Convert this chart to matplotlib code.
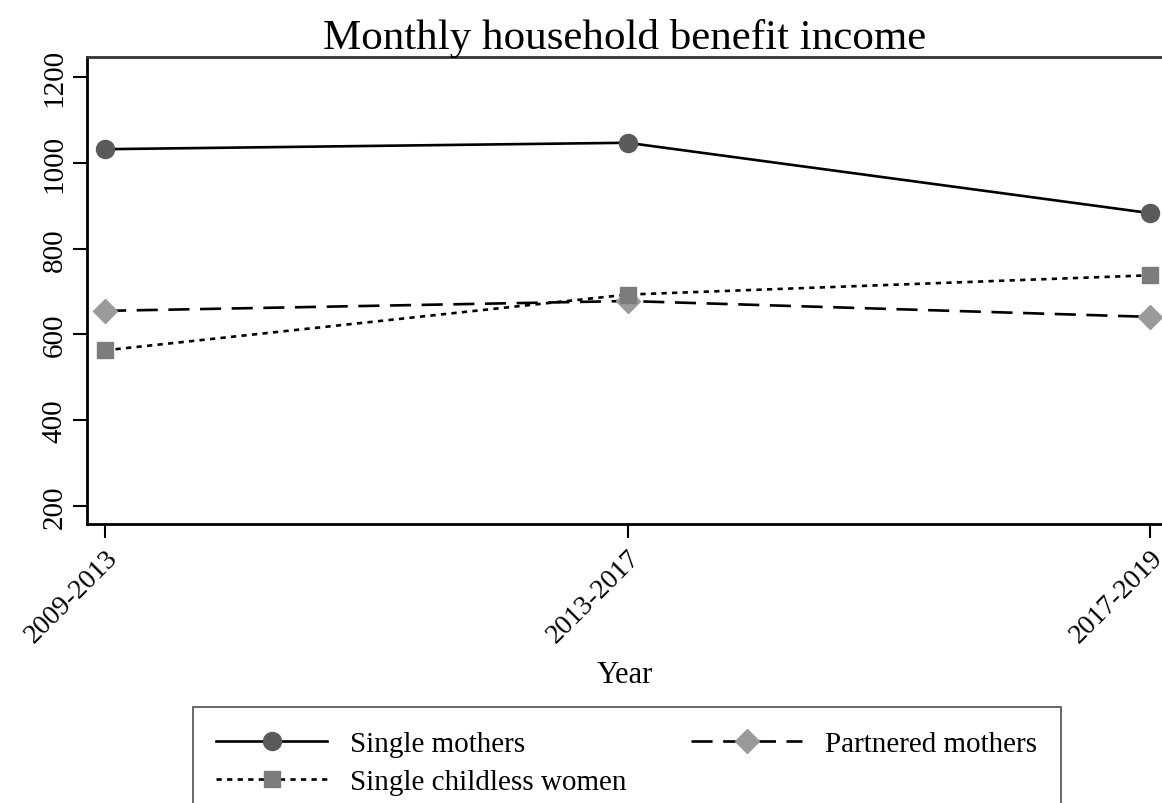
import matplotlib
matplotlib.use("Agg")
import matplotlib.pyplot as plt

plt.rcParams['font.family'] = ['Liberation Serif', 'DejaVu Serif']

periods = ['2009-2013', '2013-2017', '2017-2019']
single_mothers = [1032, 1047, 883]
partnered_mothers = [655, 678, 641]
single_childless = [563, 693, 738]
yticks = [200, 400, 600, 800, 1000, 1200]

fig = plt.figure(figsize=(11.62, 8.04), dpi=100)
# axes box: left edge at ~87px, top ~58px, bottom ~525px, runs to right edge
ax = fig.add_axes([87 / 1162, 1 - 525 / 804, 1 - 87 / 1162, (525 - 58) / 804])

x = range(len(periods))
ax.plot(x, single_mothers, color='black', linestyle='-', linewidth=1.9,
        marker='o', markersize=13, markerfacecolor='#5a5a5a', markeredgecolor='#5a5a5a',
        label='Single mothers')
ax.plot(x, partnered_mothers, color='black', linestyle=(0, (8, 4)), linewidth=1.9,
        marker='D', markersize=12, markerfacecolor='#9a9a9a', markeredgecolor='#9a9a9a',
        label='Partnered mothers')
ax.plot(x, single_childless, color='black', linestyle=(0, (2, 2)), linewidth=1.9,
        marker='s', markersize=12, markerfacecolor='#7c7c7c', markeredgecolor='#7c7c7c',
        label='Single childless women')

ax.set_xlim(-0.0345, 2.023)
ax.set_ylim(158, 1247)
ax.set_xticks(list(x))
ax.set_xticklabels(periods, rotation=45, ha='right', rotation_mode='anchor', fontsize=20)
ax.set_yticks(yticks)
ax.set_yticklabels([str(v) for v in yticks], rotation=90, va='center', fontsize=21)
ax.tick_params(axis='both', length=10, width=1.5, direction='out')
ax.tick_params(axis='x', pad=5)
ax.tick_params(axis='y', pad=4)
ax.spines['right'].set_visible(False)
for side in ['left', 'bottom']:
    ax.spines[side].set_linewidth(2)
ax.spines['top'].set_linewidth(2)
ax.spines['top'].set_color('#333333')

ax.set_xlabel('Year', fontsize=22, labelpad=9)
ax.set_title('Monthly household benefit income', fontsize=31, pad=4)

handles, labels = ax.get_legend_handles_labels()
order = [0, 2, 1]
leg = fig.legend([handles[i] for i in order], [labels[i] for i in order],
                 loc='upper left', bbox_to_anchor=(193 / 1162, 1 - 708 / 804),
                 bbox_transform=fig.transFigure, ncol=2, fontsize=21,
                 frameon=True, fancybox=False, edgecolor='#333333',
                 handlelength=3.8, handletextpad=0.8, columnspacing=2.2,
                 borderpad=0.8, borderaxespad=0, labelspacing=0.4)
leg.get_frame().set_linewidth(1.3)

fig.savefig('out.png', dpi=100)
